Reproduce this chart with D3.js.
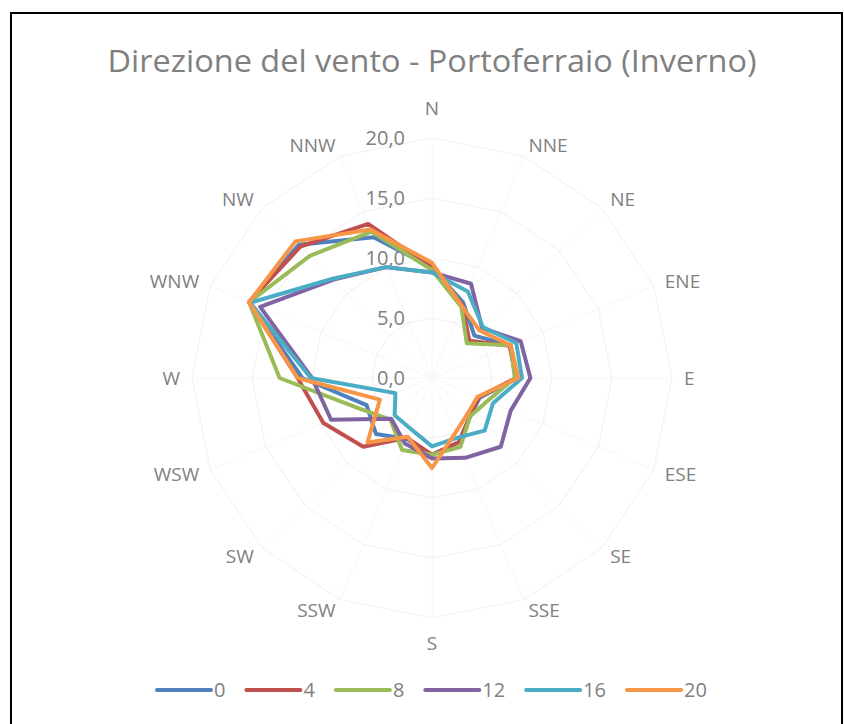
<!DOCTYPE html>
<html><head><meta charset="utf-8">
<script src="https://cdn.jsdelivr.net/npm/d3@7"></script>
<style>body{margin:0;background:#fff}</style>
</head><body><svg id="chart" width="844" height="724"></svg>
<script>
// Wind direction frequencies by hour of day, winter, Portoferraio
const directions = ["N","NNE","NE","ENE","E","ESE","SE","SSE","S","SSW","SW","WSW","W","WNW","NW","NNW"];
const seriesNames = ["0","4","8","12","16","20"];
const seriesColors = ["#4F81BD","#C0504D","#9BBB59","#8064A2","#4BACC6","#F79646"];

const h0  = [9.2, 6.8, 5.0, 7.1, 7.1, 4.3, 4.5, 5.8, 6.4, 5.5, 6.6, 5.9, 10.8, 16.5, 15.7, 12.7];
const h4  = [9.2, 6.6, 4.4, 7.0, 7.0, 4.2, 4.5, 5.8, 6.4, 5.4, 8.1, 9.8, 11.2, 16.5, 15.5, 13.9];
const h8  = [9.0, 6.4, 4.1, 7.1, 6.9, 5.0, 4.5, 6.2, 6.4, 6.5, 4.9, 6.6, 12.7, 16.5, 14.4, 13.2];
const h12 = [8.8, 8.5, 5.9, 8.0, 8.2, 7.1, 8.1, 7.2, 6.7, 5.9, 4.8, 9.1, 10.0, 15.5, 11.6, 10.0];
const h16 = [8.8, 7.8, 6.0, 7.6, 7.5, 5.5, 6.2, 5.4, 5.7, 4.6, 4.4, 3.3, 10.1, 16.4, 11.7, 10.0];
const h20 = [9.6, 6.5, 5.6, 7.1, 7.2, 4.1, 4.2, 5.0, 7.5, 5.3, 7.6, 4.7, 11.2, 16.5, 16.1, 13.4];
const seriesValues = [h0, h4, h8, h12, h16, h20];

const tickValues = [0, 5, 10, 15, 20];
const tickLabels = ["0,0", "5,0", "10,0", "15,0", "20,0"];

const svg = d3.select("#chart");
const cx = 432, cy = 378, R = 240;
const textColor = "#808080";
const font = "'Open Sans', sans-serif";

// outer frame
svg.append("rect").attr("x", 11).attr("y", 13).attr("width", 831).attr("height", 740)
  .attr("fill", "#fff").attr("stroke", "#000").attr("stroke-width", 2);

// title
svg.append("text").attr("x", cx).attr("y", 72).attr("text-anchor", "middle")
  .attr("font-family", font).attr("font-size", 31).attr("fill", textColor)
  .attr("textLength", 649).attr("lengthAdjust", "spacingAndGlyphs")
  .text("Direzione del vento - Portoferraio (Inverno)");

const r = d3.scaleLinear().domain([0, 20]).range([0, R]);
const angle = d3.scaleLinear().domain([0, directions.length]).range([0, 2 * Math.PI]);

const g = svg.append("g").attr("transform", `translate(${cx},${cy})`);

// grid: spokes and polygon rings
g.selectAll("line.spoke").data(directions).join("line").attr("class", "spoke")
  .attr("x1", 0).attr("y1", 0)
  .attr("x2", (d, i) => r(20) * Math.sin(angle(i)))
  .attr("y2", (d, i) => -r(20) * Math.cos(angle(i)))
  .attr("stroke", "#f6f6f6").attr("stroke-width", 1);

const ringLine = d3.lineRadial().angle((d, i) => angle(i)).radius(d => r(d)).curve(d3.curveLinearClosed);
g.selectAll("path.ring").data(tickValues.slice(1)).join("path").attr("class", "ring")
  .attr("d", v => ringLine(directions.map(() => v)))
  .attr("fill", "none").attr("stroke", "#f0f0f0").attr("stroke-width", 1);

// value axis labels
g.selectAll("text.tick").data(tickValues).join("text").attr("class", "tick")
  .attr("x", -27).attr("y", v => -r(v)).attr("dy", "0.35em")
  .attr("text-anchor", "end").attr("font-family", font).attr("font-size", 20)
  .attr("fill", textColor).text((v, i) => tickLabels[i]);

// direction labels, placed just outside the outer ring
g.selectAll("text.dir").data(directions).join("text").attr("class", "dir")
  .attr("font-family", font).attr("font-size", 19).attr("fill", textColor)
  .attr("text-anchor", "middle").attr("dy", "0.35em")
  .text(d => d)
  .each(function (d, i) {
    const w = this.getComputedTextLength();
    const s = Math.sin(angle(i)), c = Math.cos(angle(i));
    const onVertical = Math.abs(s) < 0.01;
    const x = s * 252 + (onVertical ? 0 : Math.sign(s) * w / 2);
    const y = onVertical ? (c > 0 ? -270 : 265) : -c * 252;
    d3.select(this).attr("x", x).attr("y", y);
  });

// series
const seriesLine = d3.lineRadial().angle((d, i) => angle(i)).radius(d => r(d)).curve(d3.curveLinearClosed);
g.selectAll("path.series").data(seriesValues).join("path").attr("class", "series")
  .attr("d", d => seriesLine(d))
  .attr("fill", "none").attr("stroke", (d, i) => seriesColors[i])
  .attr("stroke-width", 4).attr("stroke-linejoin", "round");

// legend
const legend = svg.append("g").attr("transform", "translate(157,690)");
let lx = 0;
seriesNames.forEach((name, i) => {
  legend.append("line").attr("x1", lx).attr("x2", lx + 54).attr("y1", 0).attr("y2", 0)
    .attr("stroke", seriesColors[i]).attr("stroke-width", 4).attr("stroke-linecap", "round");
  const t = legend.append("text").attr("x", lx + 57).attr("y", 0).attr("dy", "0.35em")
    .attr("font-family", font).attr("font-size", 20).attr("fill", textColor).text(name);
  lx += 57 + t.node().getComputedTextLength() + 21;
});
</script>
</body></html>
